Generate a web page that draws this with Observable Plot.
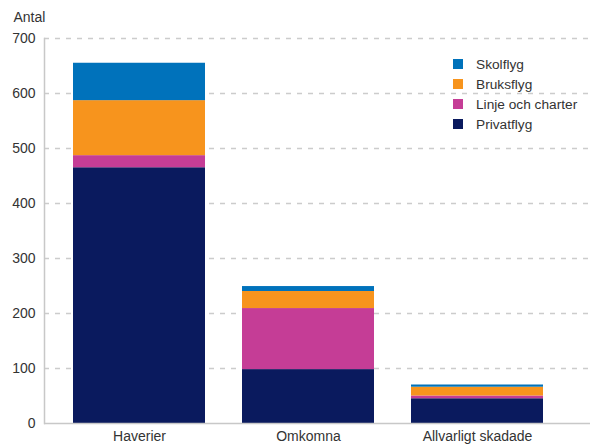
<!DOCTYPE html>
<html>
<head>
<meta charset="utf-8">
<script src="https://cdn.jsdelivr.net/npm/d3@7"></script>
<script src="https://cdn.jsdelivr.net/npm/@observablehq/plot@0.6"></script>
<style>
  html, body { margin: 0; padding: 0; background: #fff; }
  #wrap { position: relative; width: 590px; height: 446px; font-family: "Liberation Sans", Arial, sans-serif; }
  #legend { position: absolute; left: 453px; top: 54px; font-size: 13.7px; color: #333; }
  #legend .row { display: flex; align-items: center; height: 20px; }
  #legend .sw { width: 10px; height: 10px; margin-right: 13px; }
</style>
</head>
<body>
<div id="wrap"></div>
<script>
const categories = ["Haverier", "Omkomna", "Allvarligt skadade"];
const seriesNames = ["Privatflyg", "Linje och charter", "Bruksflyg", "Skolflyg"];
const privatflyg = [465, 98, 45];
const linjeOchCharter = [22, 111, 5];
const bruksflyg = [100, 31, 16];
const skolflyg = [68, 9, 4];
const colors = ["#0a1a5e", "#c53d96", "#f7941d", "#0072bb"];
const yTicks = [0, 100, 200, 300, 400, 500, 600, 700];

const seriesValues = [privatflyg, linjeOchCharter, bruksflyg, skolflyg];
const data = [];
seriesNames.forEach((s, si) => categories.forEach((c, ci) => data.push({cat: c, series: s, value: seriesValues[si][ci]})));

const chart = Plot.plot({
  width: 590,
  height: 446,
  marginLeft: 44,
  marginRight: 0,
  marginTop: 38,
  marginBottom: 23,
  style: {fontFamily: "Liberation Sans, Arial, sans-serif", fontSize: "14px", color: "#333", background: "#fff"},
  x: {domain: categories, range: [44, 572], paddingInner: 0.22, paddingOuter: 0.17, label: null},
  y: {domain: [0, 700], label: null},
  color: {domain: seriesNames, range: colors},
  marks: [
    Plot.ruleY(yTicks.filter(d => d > 0), {stroke: "#cccccc", strokeWidth: 1.5, strokeDasharray: "5,6"}),
    Plot.barY(data, {x: "cat", y: "value", fill: "series", order: seriesNames}),
    Plot.frame({anchor: "left", stroke: "#c8c8c8", strokeWidth: 1.5}),
    Plot.ruleY([0], {stroke: "#c8c8c8", strokeWidth: 1.5}),
    Plot.axisY({ticks: yTicks, tickSize: 0, tickPadding: 9, fontSize: 14}),
    Plot.axisX({tickSize: 0, tickPadding: 8, fontSize: 14}),
    Plot.text(["Antal"], {frameAnchor: "top-left", dx: -31, dy: -26, fontSize: 14, textAnchor: "start"})
  ]
});

const wrap = document.getElementById("wrap");
wrap.appendChild(chart);

const legend = document.createElement("div");
legend.id = "legend";
const legendOrder = ["Skolflyg", "Bruksflyg", "Linje och charter", "Privatflyg"];
legendOrder.forEach(name => {
  const row = document.createElement("div");
  row.className = "row";
  const sw = document.createElement("div");
  sw.className = "sw";
  sw.style.background = colors[seriesNames.indexOf(name)];
  const t = document.createElement("span");
  t.textContent = name;
  row.appendChild(sw);
  row.appendChild(t);
  legend.appendChild(row);
});
wrap.appendChild(legend);
</script>
</body>
</html>
